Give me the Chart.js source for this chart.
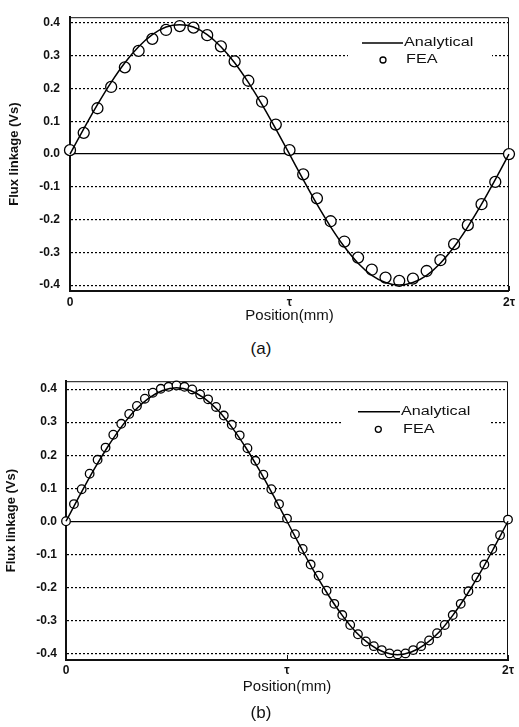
<!DOCTYPE html>
<html>
<head>
<meta charset="utf-8">
<script src="https://cdn.jsdelivr.net/npm/chart.js@4.4.1/dist/chart.umd.min.js"></script>
<style>
  body { margin: 0; background: #fff; }
  #page { position: relative; width: 519px; height: 727px; font-family: "Liberation Sans", Arial, sans-serif; }
  .panel { position: absolute; left: 0; width: 519px; }
  .cap { position: absolute; left: 0; width: 522px; text-align: center; font-size: 17px; line-height: 20px; color: #111; }
</style>
</head>
<body>
<div id="page">
  <div class="panel" style="top:0;height:330px"><canvas id="chartA"></canvas></div>
  <div class="cap" style="top:339px">(a)</div>
  <div class="panel" style="top:365px;height:340px"><canvas id="chartB"></canvas></div>
  <div class="cap" style="top:703px">(b)</div>
</div>
<script>
const FONT = '"Liberation Sans", Arial, sans-serif';

// axes
const xTicks = [0, 1, 2];
const xTickLabels = ['0', 'τ', '2τ'];
const yTicks = [-0.4, -0.3, -0.2, -0.1, 0, 0.1, 0.2, 0.3, 0.4];

// analytical curve, position in units of tau
const analyticalPos = [0, 0.0625, 0.125, 0.1875, 0.25, 0.3125, 0.375, 0.4375, 0.5, 0.5625, 0.625, 0.6875, 0.75, 0.8125, 0.875, 0.9375,
  1, 1.0625, 1.125, 1.1875, 1.25, 1.3125, 1.375, 1.4375, 1.5, 1.5625, 1.625, 1.6875, 1.75, 1.8125, 1.875, 1.9375, 2];
const analyticalA = [0.000, 0.077, 0.151, 0.219, 0.279, 0.328, 0.365, 0.388, 0.395, 0.388, 0.365, 0.328, 0.279, 0.219, 0.151, 0.077,
  0.000, -0.078, -0.153, -0.222, -0.283, -0.333, -0.370, -0.392, -0.400, -0.392, -0.370, -0.333, -0.283, -0.222, -0.153, -0.078, 0.000];
const analyticalB = [0.000, 0.079, 0.155, 0.224, 0.285, 0.336, 0.373, 0.396, 0.404, 0.396, 0.373, 0.336, 0.285, 0.224, 0.155, 0.079,
  0.000, -0.079, -0.155, -0.224, -0.285, -0.336, -0.373, -0.396, -0.404, -0.396, -0.373, -0.336, -0.285, -0.224, -0.155, -0.079, 0.000];

// FEA points (a)
const feaPosA = analyticalPos;
const feaA = [0.012, 0.065, 0.140, 0.205, 0.265, 0.315, 0.352, 0.379, 0.391, 0.386, 0.363, 0.329, 0.283, 0.224, 0.160, 0.090,
  0.012, -0.062, -0.135, -0.205, -0.267, -0.316, -0.353, -0.377, -0.387, -0.380, -0.357, -0.324, -0.275, -0.217, -0.153, -0.085, 0.000];

// FEA points (b)
const feaPosB = [0.000, 0.036, 0.071, 0.107, 0.143, 0.179, 0.214, 0.250, 0.286, 0.321, 0.357, 0.393, 0.429, 0.464,
  0.500, 0.536, 0.571, 0.607, 0.643, 0.679, 0.714, 0.750, 0.786, 0.821, 0.857, 0.893, 0.929, 0.964,
  1.000, 1.036, 1.071, 1.107, 1.143, 1.179, 1.214, 1.250, 1.286, 1.321, 1.357, 1.393, 1.429, 1.464,
  1.500, 1.536, 1.571, 1.607, 1.643, 1.679, 1.714, 1.750, 1.786, 1.821, 1.857, 1.893, 1.929, 1.964, 2.000];
const feaB = [0.000, 0.052, 0.097, 0.144, 0.186, 0.223, 0.262, 0.295, 0.325, 0.349, 0.371, 0.389, 0.401, 0.407,
  0.411, 0.407, 0.399, 0.384, 0.369, 0.346, 0.320, 0.292, 0.260, 0.221, 0.183, 0.141, 0.097, 0.052,
  0.008, -0.039, -0.084, -0.131, -0.165, -0.210, -0.250, -0.284, -0.314, -0.342, -0.364, -0.378, -0.390, -0.400,
  -0.403, -0.400, -0.390, -0.378, -0.361, -0.339, -0.314, -0.284, -0.250, -0.212, -0.170, -0.131, -0.084, -0.042, 0.005];

// frame top/right, inward x ticks, and the inline legend
const panelPlugin = {
  id: 'panel',
  beforeDatasetsDraw(chart, args, opts) {
    const { ctx, chartArea: a, scales: { x } } = chart;
    ctx.save();
    ctx.strokeStyle = '#111';
    ctx.lineWidth = 1;
    ctx.beginPath();
    ctx.moveTo(a.left, a.top + 0.5);
    ctx.lineTo(a.right - 0.5, a.top + 0.5);
    ctx.lineTo(a.right - 0.5, a.bottom);
    x.ticks.forEach(t => {
      const px = Math.round(x.getPixelForValue(t.value)) + 0.5;
      ctx.moveTo(px, a.bottom);
      ctx.lineTo(px, a.bottom - 5);
    });
    ctx.stroke();

    const L = opts.legend;
    ctx.fillStyle = '#fff';
    ctx.fillRect(L.box[0], L.box[1], L.box[2], L.box[3]);
    ctx.strokeStyle = '#000';
    ctx.lineWidth = 1.5;
    ctx.beginPath();
    ctx.moveTo(L.line[0], L.line[2]);
    ctx.lineTo(L.line[1], L.line[2]);
    ctx.stroke();
    ctx.lineWidth = 1.3;
    ctx.beginPath();
    ctx.arc(L.dot[0], L.dot[1], 3, 0, Math.PI * 2);
    ctx.fillStyle = '#fff';
    ctx.fill();
    ctx.stroke();

    ctx.fillStyle = '#111';
    ctx.font = '12px ' + FONT;
    ctx.textBaseline = 'middle';
    chart.data.datasets.forEach((ds, i) => {
      const [tx, ty] = L.text[i];
      ctx.save();
      ctx.translate(tx, ty);
      ctx.scale(1.35, 1); // scan text is wide
      ctx.fillText(ds.label, 0, 0);
      ctx.restore();
    });
    ctx.restore();
  }
};

function makeChart(id, p) {
  return new Chart(document.getElementById(id), {
    type: 'line',
    data: {
      datasets: [{
        label: 'Analytical',
        data: analyticalPos.map((x, i) => ({ x, y: p.line[i] })),
        borderColor: '#000',
        borderWidth: 1.5,
        pointRadius: 0,
        cubicInterpolationMode: 'monotone',
        clip: false
      }, {
        label: 'FEA',
        data: p.feaPos.map((x, i) => ({ x, y: p.fea[i] })),
        showLine: false,
        pointRadius: p.r,
        pointBorderWidth: 1.3,
        pointBorderColor: '#000',
        pointBackgroundColor: '#fff',
        clip: false
      }]
    },
    options: {
      responsive: true,
      maintainAspectRatio: false,
      animation: false,
      layout: { padding: p.pad },
      plugins: {
        legend: { display: false },
        tooltip: { enabled: false },
        panel: { legend: p.legend }
      },
      scales: {
        x: {
          type: 'linear', min: 0, max: 2,
          afterBuildTicks: s => { s.ticks = xTicks.map(v => ({ value: v })); },
          afterFit: s => { s.height = p.xh; },
          ticks: {
            callback: v => xTickLabels[xTicks.indexOf(v)],
            padding: p.xpad, maxRotation: 0, color: '#111',
            font: { family: FONT, size: 12, weight: 'bold' }
          },
          grid: { display: false, drawTicks: false },
          border: { color: '#111', width: 2 },
          title: { display: true, text: 'Position(mm)', color: '#111', padding: 0, font: { family: FONT, size: 15 } }
        },
        y: {
          min: p.ymin, max: p.ymax,
          afterBuildTicks: s => { s.ticks = yTicks.map(v => ({ value: v })); },
          afterFit: s => { s.width = p.yw; },
          ticks: {
            callback: v => v.toFixed(1),
            padding: p.ypad, color: '#111',
            font: { family: FONT, size: 12, weight: 'bold' }
          },
          grid: {
            color: '#000', drawTicks: false,
            lineWidth: c => (c.tick && c.tick.value === 0 ? 1.3 : 1.2)
          },
          border: {
            color: '#111', width: 2,
            dash: c => (c.tick && c.tick.value === 0 ? [] : [2, 2])
          },
          title: { display: true, text: 'Flux linkage (Vs)', color: '#111', padding: 0, font: { family: FONT, size: 13, weight: 'bold' } }
        }
      }
    },
    plugins: [panelPlugin]
  });
}

makeChart('chartA', {
  line: analyticalA, feaPos: feaPosA, fea: feaA, r: 5.5,
  pad: { left: 7, right: 8, top: 9, bottom: 5 }, yw: 63, xh: 34, xpad: 4, ypad: 10,
  ymin: -0.418, ymax: 0.418,
  legend: { box: [348, 31, 144, 38], line: [362, 403, 43], dot: [383, 60], text: [[404, 43], [406, 60]] }
});

makeChart('chartB', {
  line: analyticalB, feaPos: feaPosB, fea: feaB, r: 4.3,
  pad: { left: 4, right: 11, top: 11, bottom: 9 }, yw: 62, xh: 36, xpad: 3, ypad: 9,
  ymin: -0.42, ymax: 0.424,
  legend: { box: [343, 33, 147, 40], line: [358, 400, 46.7], dot: [378.3, 64.3], text: [[401, 46.7], [403, 64.3]] }
});
</script>
</body>
</html>
